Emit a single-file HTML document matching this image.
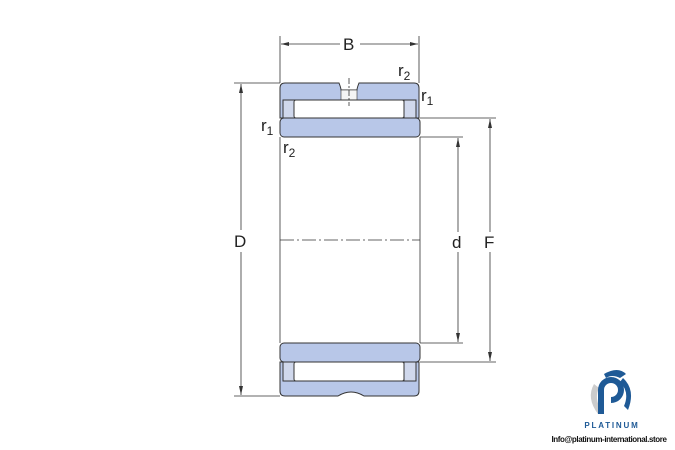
<!DOCTYPE html>
<html><head><style>body{margin:0;background:#fff}svg{display:block}</style></head><body>
<svg width="675" height="450" viewBox="0 0 675 450" font-family="Liberation Sans, sans-serif">
<g stroke="#333" stroke-width="0.8" fill="none">
<line x1="280" y1="36" x2="280" y2="83"/><line x1="419" y1="36" x2="419" y2="83"/>
<line x1="281" y1="44" x2="340" y2="44"/><line x1="360" y1="44" x2="418" y2="44"/>
<line x1="234" y1="83" x2="280" y2="83"/><line x1="234" y1="396" x2="280" y2="396"/>
<line x1="241" y1="84" x2="241" y2="230"/><line x1="241" y1="252" x2="241" y2="395"/>
<line x1="420" y1="137" x2="463" y2="137"/><line x1="420" y1="343" x2="463" y2="343"/>
<line x1="458" y1="138" x2="458" y2="232"/><line x1="458" y1="252" x2="458" y2="342"/>
<line x1="420" y1="118" x2="496" y2="118"/><line x1="420" y1="362" x2="496" y2="362"/>
<line x1="490" y1="119" x2="490" y2="232"/><line x1="490" y1="252" x2="490" y2="361"/>
<line x1="280" y1="137" x2="280" y2="343"/><line x1="420" y1="137" x2="420" y2="343"/>
<line x1="280" y1="240" x2="420" y2="240" stroke-dasharray="14,3,2,3"/>
</g>
<g fill="#333">
<polygon points="281,44 289,42 289,46"/><polygon points="418,44 410,42 410,46"/>
<polygon points="241,84 239,93 243,93"/><polygon points="241,395 239,386 243,386"/>
<polygon points="458,138 456,147 460,147"/><polygon points="458,342 456,333 460,333"/>
<polygon points="490,119 488,128 492,128"/><polygon points="490,361 488,352 492,352"/>
</g>
<g stroke="#333" stroke-width="1" fill="#b8c7e8">
<path d="M285,83 H339 Q341,88 341,90 H357 Q357,88 359,83 H414 Q419,83 419,88 V118 H413 V100 H295 V118 H280 V88 Q280,83 285,83Z"/>
<rect x="341" y="90" width="16" height="10" fill="#f4f4f4" stroke-width="0.6"/>
<rect x="283" y="100" width="12" height="18" fill="#d0d8ec"/>
<rect x="404" y="100" width="12" height="18" fill="#d0d8ec"/>
<rect x="294" y="100" width="110" height="18" rx="2" fill="#fff"/>
<rect x="280" y="118" width="140" height="19" rx="4"/>
<rect x="280" y="343" width="140" height="19" rx="4"/>
<path d="M280,362 H295 V381 H413 V362 H419 V391 Q419,396 414,396 H364 Q351,388 338,396 H285 Q280,396 280,391Z"/>
<rect x="283" y="362" width="12" height="19" fill="#d0d8ec"/>
<rect x="404" y="362" width="12" height="19" fill="#d0d8ec"/>
<rect x="294" y="362" width="110" height="19" rx="2" fill="#fff"/>
</g>
<line x1="349" y1="78" x2="349" y2="106" stroke="#333" stroke-width="0.8" stroke-dasharray="6,2,2,2"/>
<g fill="#222" font-size="17">
<text x="343" y="50">B</text>
<text x="234" y="247">D</text>
<text x="452" y="248">d</text>
<text x="484" y="248">F</text>
<text x="398" y="76">r<tspan font-size="12" dy="4">2</tspan></text>
<text x="421" y="101">r<tspan font-size="12" dy="4">1</tspan></text>
<text x="261" y="131">r<tspan font-size="12" dy="4">1</tspan></text>
<text x="283" y="153">r<tspan font-size="12" dy="4">2</tspan></text>
</g>
<!-- logo -->
<path d="M594,384 Q586,398 598,414 L601,410 Q594,398 599,388Z" fill="#ccc"/>
<path d="M604,374 Q618,366 626,374 L620,378 Q612,374 606,378Z" fill="#1f5a96"/>
<path d="M598,402 V390 A13,13 0 1 1 611,403 V397 A7,7 0 1 0 604,390 V414 H598Z" fill="#1f5a96"/>
<path d="M623,378 Q636,390 628,410 L624,406 Q630,392 620,382Z" fill="#1f5a96"/>
<text x="612" y="428" text-anchor="middle" font-size="8" font-weight="bold" fill="#1f5a96" letter-spacing="1.8">PLATINUM</text>
<text x="609" y="442" text-anchor="middle" font-size="8" font-weight="bold" fill="#111" letter-spacing="-0.4">Info@platinum-international.store</text>
</svg>
</body></html>
